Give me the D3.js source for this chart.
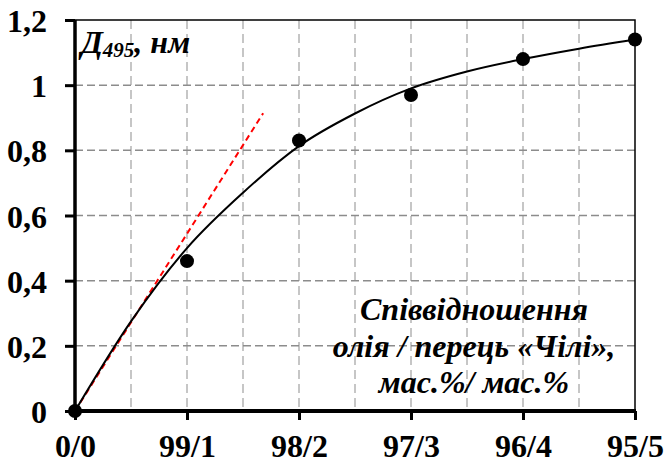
<!DOCTYPE html>
<html><head><meta charset="utf-8">
<script src="https://cdn.jsdelivr.net/npm/d3@7"></script>
<style>body{margin:0;background:#fff}svg{display:block}</style>
</head><body>
<script>
const categories = ["0/0","99/1","98/2","97/3","96/4","95/5"];
const values = [0, 0.46, 0.83, 0.97, 1.08, 1.14];
const yTicks = [0, 0.2, 0.4, 0.6, 0.8, 1, 1.2];
const yTickLabels = ["0","0,2","0,4","0,6","0,8","1","1,2"];
// trend curve (x in category index units)
const trendX = [0, 0.5, 1, 1.5, 2, 2.5, 3, 3.5, 4, 4.5, 5];
const trendY = [0, 0.275, 0.50, 0.67, 0.813, 0.913, 0.99, 1.042, 1.08, 1.112, 1.14];
// tangent line at origin
const tangentX = [0, 1.68];
const tangentY = [0, 0.914];
const noteLines = ["Співвідношення", "олія / перець «Чілі»,", "мас.%/ мас.%"];

const W = 664, H = 466;
const svg = d3.select("body").append("svg").attr("width", W).attr("height", H);
const x = d3.scaleLinear().domain([0, 5]).range([75, 635]);
const y = d3.scaleLinear().domain([0, 1.2]).range([411, 20]);
const font = '"Liberation Serif", "Times New Roman", serif';

// grid
const vGrid = d3.range(1, 10).map(i => i * 0.5);
svg.append("g").selectAll("line").data(vGrid).join("line")
  .attr("x1", d => x(d)).attr("x2", d => x(d)).attr("y1", y(1.2)).attr("y2", y(0))
  .attr("stroke", "#b4b4b4").attr("stroke-width", 1.5).attr("stroke-dasharray", "9,5");
svg.append("g").selectAll("line").data(yTicks.slice(1, -1)).join("line")
  .attr("x1", x(0)).attr("x2", x(5)).attr("y1", d => y(d)).attr("y2", d => y(d))
  .attr("stroke", "#8c8c8c").attr("stroke-width", 1.5).attr("stroke-dasharray", "8,4");

// frame top/right
svg.append("path").attr("d", `M${x(0)},${y(1.2)}H${x(5)}V${y(0)}`)
  .attr("fill", "none").attr("stroke", "#000").attr("stroke-width", 1.5);

// tangent
svg.append("path").datum(tangentX.map((d, i) => [d, tangentY[i]]))
  .attr("d", d3.line().x(d => x(d[0])).y(d => y(d[1])))
  .attr("fill", "none").attr("stroke", "#ff0000").attr("stroke-width", 2).attr("stroke-dasharray", "6,4");

// trend curve
svg.append("path").datum(trendX.map((d, i) => [d, trendY[i]]))
  .attr("d", d3.line().x(d => x(d[0])).y(d => y(d[1])).curve(d3.curveMonotoneX))
  .attr("fill", "none").attr("stroke", "#000").attr("stroke-width", 2);

// axes
const yAxis = d3.axisLeft(y).tickValues(yTicks).tickFormat((d, i) => yTickLabels[i]).tickSize(10).tickPadding(18);
const gy = svg.append("g").attr("transform", `translate(${x(0)},0)`).call(yAxis);
gy.select(".domain").attr("stroke-width", 3.5).attr("d", `M0,${y(1.2)}V${y(0)+1.5}`);
gy.selectAll(".tick line").attr("stroke-width", 3);
gy.selectAll(".tick text").style("font-family", font).attr("font-weight", "bold").attr("font-size", 32).attr("dy", "0.36em").attr("fill", "#000");

const xAxis = d3.axisBottom(x).tickValues(d3.range(0, 6)).tickFormat(i => categories[i]).tickSize(9).tickPadding(14);
const gx = svg.append("g").attr("transform", `translate(0,${y(0)})`).call(xAxis);
gx.select(".domain").attr("stroke-width", 4).attr("d", `M${x(0)-1.5},0H${x(5)+1}`);
gx.selectAll(".tick line").attr("stroke-width", 3);
gx.selectAll(".tick text").style("font-family", font).attr("font-weight", "bold").attr("font-size", 32).attr("fill", "#000");

// points
svg.append("g").selectAll("circle").data(values).join("circle")
  .attr("cx", (d, i) => x(i)).attr("cy", d => y(d)).attr("r", 7).attr("fill", "#000");

// y title
const t = svg.append("text").attr("x", 81).attr("y", 53).style("font-family", font)
  .attr("font-weight", "bold").attr("font-style", "italic").attr("font-size", 32);
t.append("tspan").text("Д");
t.append("tspan").attr("font-size", 21).attr("dy", 4).text("495");
t.append("tspan").attr("dy", -4).text(", нм");

// note
svg.append("g").selectAll("text").data(noteLines).join("text")
  .attr("x", 474).attr("y", (d, i) => 320 + i * 36.5).attr("text-anchor", "middle").style("font-family", font)
  .attr("font-weight", "bold").attr("font-style", "italic").attr("font-size", 32)
  .text(d => d);
</script>
</body></html>
